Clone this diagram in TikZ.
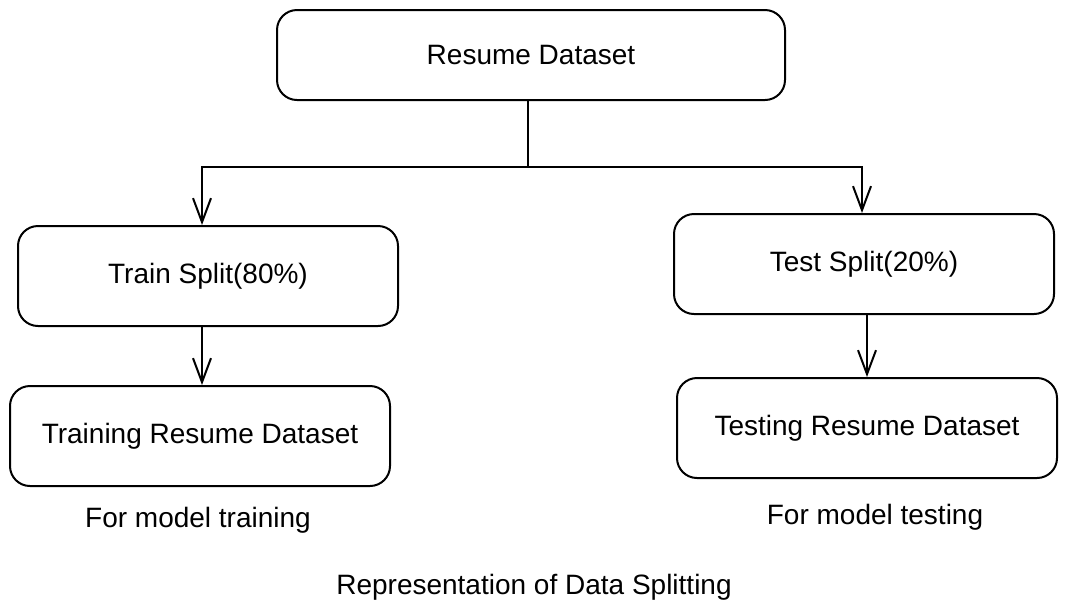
\documentclass[tikz,border=0pt]{standalone}
\usepackage{fontspec}
\setmainfont{Liberation Sans}
\usetikzlibrary{arrows.meta}

\begin{document}
\begin{tikzpicture}[
    x=0.5pt, y=-0.5pt,
    every node/.style = {
      font=\fontsize{14}{16}\selectfont,
      align=center
    },
    box/.style = {
      shape=rectangle,
      rounded corners=10pt,
      draw,
      line width=1pt,
      minimum width=190pt,
      minimum height=50pt
    },
    arrow/.style = {
      line width=1pt,
      -{Straight Barb[length=12pt, width=9pt, line width=1pt]}
    }
  ]

    \useasboundingbox (0,0) rectangle (1068,612);

    % Top node
    \node[box, minimum width=254pt, minimum height=45pt] (resume) at (531,55) {Resume Dataset};

    % Split nodes
    \node[box] (train) at (208,276) {Train Split(80\%)};
    \node[box] (test)  at (864,264) {Test Split(20\%)};

    % Dataset nodes below the splits
    \node[box] (training) at (200,436) {Training Resume Dataset};
    \node[box] (testing)  at (867,428) {Testing Resume Dataset};

    % Notes under the datasets
    \node (trainnote) at (198,520) {For model training};
    \node (testnote)  at (875,517) {For model testing};

    % Caption
    \node (caption) at (534,587) {Representation of Data Splitting};

    % Arrows
    \coordinate (fork) at (528,167);
    \draw[line width=1pt] (resume.south -| fork) -- (fork);
    \draw[arrow] (fork) -| ([xshift=-3pt]train.north);
    \draw[arrow] (fork) -| ([xshift=-1pt]test.north);
    \draw[arrow] ([xshift=-3pt]train.south) -- ([xshift=-3pt]train.south |- training.north);
    \draw[arrow] (testing.north |- test.south) -- (testing.north);

  \end{tikzpicture}
\end{document}
